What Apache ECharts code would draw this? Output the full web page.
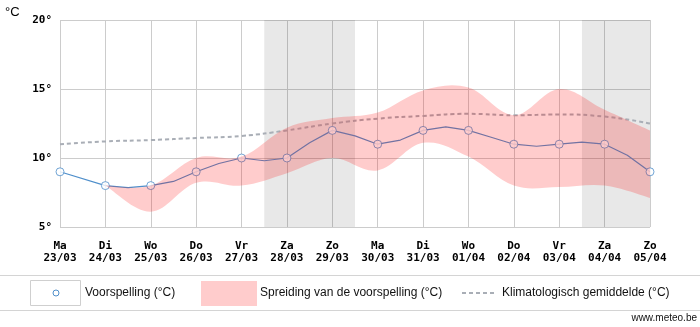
<!DOCTYPE html>
<html>
<head>
<meta charset="utf-8">
<title>Temperatuurverwachting</title>
<script src="https://cdn.jsdelivr.net/npm/echarts@6/dist/echarts.min.js"></script>
<style>
  html, body { margin: 0; padding: 0; background: #fff; }
  #chart { width: 700px; height: 327px; }
</style>
</head>
<body>
<div id="chart"></div>
<script>
// Day labels along the horizontal axis
const dayNames = ['Ma', 'Di', 'Wo', 'Do', 'Vr', 'Za', 'Zo', 'Ma', 'Di', 'Wo', 'Do', 'Vr', 'Za', 'Zo'];
const dayDates = ['23/03', '24/03', '25/03', '26/03', '27/03', '28/03', '29/03', '30/03', '31/03', '01/04', '02/04', '03/04', '04/04', '05/04'];

// Daily forecast (°C), one marker per day
const forecastDaily = [9, 8, 8, 9, 10, 10, 12, 11, 12, 12, 11, 11, 11, 9];
// Forecast at 12h steps between the daily values (day index, °C)
const forecastHalfDay = [
  [1.5, 7.85], [2.5, 8.3], [3.5, 9.6], [4.5, 9.8], [5.5, 11.1], [6.5, 11.6],
  [7.5, 11.3], [8.5, 12.25], [9.5, 11.5], [10.5, 10.85], [11.5, 11.15], [12.5, 10.2]
];

// Forecast spread, from 24/03 onwards
const spreadStart = 1;
const spreadLow  = [8.0, 6.1, 8.2, 8.0, 8.9, 10.0, 9.1, 11.1, 10.1, 8.0, 7.9, 8.0, 7.1];
const spreadHigh = [8.0, 8.0, 10.0, 10.1, 12.2, 12.9, 13.3, 14.9, 15.1, 13.1, 15.0, 13.5, 12.0];

// Climatological mean (°C)
const climateMean = [11.0, 11.2, 11.3, 11.45, 11.6, 12.0, 12.5, 12.85, 13.05, 13.2, 13.1, 13.15, 13.0, 12.5];

// Weekend periods (day index ranges)
const weekends = [[4.5, 6.5], [11.5, 13]];

// Y ticks
const yTicks = { min: 5, max: 20, step: 5 };

const LINE_BLUE = '#4f8fcb';
const SPREAD_FILL = 'rgba(255, 0, 0, 0.2)';
const CLIMATE_GREY = '#a9aeb6';
const MONO = '"DejaVu Sans Mono", monospace';
const SANS = '"Liberation Sans", Arial, sans-serif';

// Build the forecast curve: daily points merged with 12h points
const forecastCurve = forecastDaily.map((v, i) => [i, v]).concat(forecastHalfDay)
  .sort((a, b) => a[0] - b[0]);

// Smooth path segments (Catmull-Rom as cubic Bezier) through pixel points
function smoothSegments(pts, tension) {
  let d = '';
  for (let i = 0; i < pts.length - 1; i++) {
    const p0 = pts[Math.max(i - 1, 0)];
    const p1 = pts[i];
    const p2 = pts[i + 1];
    const p3 = pts[Math.min(i + 2, pts.length - 1)];
    const c1x = p1[0] + (p2[0] - p0[0]) * tension;
    const c1y = p1[1] + (p2[1] - p0[1]) * tension;
    const c2x = p2[0] - (p3[0] - p1[0]) * tension;
    const c2y = p2[1] - (p3[1] - p1[1]) * tension;
    d += ' C' + c1x + ' ' + c1y + ' ' + c2x + ' ' + c2y + ' ' + p2[0] + ' ' + p2[1];
  }
  return d;
}

// Spread band drawn as one filled shape between the high and low edges
function renderSpread(params, api) {
  const top = spreadHigh.map((v, i) => api.coord([spreadStart + i, v]));
  const bottom = spreadLow.map((v, i) => api.coord([spreadStart + i, v])).reverse();
  let d = 'M' + top[0][0] + ' ' + top[0][1];
  d += smoothSegments(top, 0.18);
  d += ' L' + bottom[0][0] + ' ' + bottom[0][1];
  d += smoothSegments(bottom, 0.18);
  d += ' Z';
  return {
    type: 'path',
    shape: { pathData: d },
    style: { fill: SPREAD_FILL, stroke: null }
  };
}

const chart = echarts.init(document.getElementById('chart'), null, { renderer: 'canvas' });

chart.setOption({
  animation: false,
  backgroundColor: '#fff',
  grid: { left: 60, right: 50, top: 20, bottom: 100 },
  xAxis: {
    type: 'value',
    min: 0,
    max: dayNames.length - 1,
    interval: 1,
    axisLine: { show: false },
    axisTick: { show: false },
    splitLine: { show: true, lineStyle: { color: '#cccccc', width: 1 } },
    axisLabel: {
      margin: 13,
      fontFamily: MONO,
      fontWeight: 'bold',
      fontSize: 11,
      lineHeight: 12,
      color: '#000',
      showMinLabel: true,
      showMaxLabel: true,
      formatter: v => dayNames[v] + '\n' + dayDates[v]
    }
  },
  yAxis: {
    type: 'value',
    min: yTicks.min,
    max: yTicks.max,
    interval: yTicks.step,
    axisLine: { show: false },
    axisTick: { show: false },
    splitLine: { show: true, lineStyle: { color: '#cccccc', width: 1 } },
    axisLabel: {
      margin: 8,
      fontFamily: MONO,
      fontWeight: 'bold',
      fontSize: 11,
      color: '#000',
      formatter: v => v + '°'
    }
  },
  series: [
    {
      name: 'Klimatologisch gemiddelde (°C)',
      type: 'line',
      z: 1,
      smooth: true,
      symbol: 'none',
      data: climateMean.map((v, i) => [i, v]),
      lineStyle: { color: CLIMATE_GREY, width: 2, type: [4, 3] },
      markArea: {
        silent: true,
        itemStyle: { color: 'rgba(0, 0, 0, 0.09)' },
        data: weekends.map(w => [{ xAxis: w[0] }, { xAxis: w[1] }])
      }
    },
    {
      name: 'Voorspelling (°C)',
      type: 'line',
      z: 2,
      symbol: 'none',
      data: forecastCurve,
      lineStyle: { color: LINE_BLUE, width: 1.2 }
    },
    {
      name: 'Voorspelling punten',
      type: 'scatter',
      z: 3,
      symbol: 'circle',
      symbolSize: 8,
      data: forecastDaily.map((v, i) => [i, v]),
      itemStyle: { color: '#ffffff', borderColor: LINE_BLUE, borderWidth: 1 }
    },
    {
      name: 'Spreiding van de voorspelling (°C)',
      type: 'custom',
      z: 5,
      silent: true,
      renderItem: renderSpread,
      data: [[spreadStart, spreadLow[0]]]
    }
  ],
  graphic: [
    { type: 'text', left: 5, top: 6, style: { text: '°C', font: '13px ' + SANS, fill: '#000' } },
    { type: 'line', shape: { x1: 0, y1: 275.5, x2: 700, y2: 275.5 }, style: { stroke: '#d4d4d4', lineWidth: 1 } },
    { type: 'line', shape: { x1: 0, y1: 310.5, x2: 700, y2: 310.5 }, style: { stroke: '#d4d4d4', lineWidth: 1 } },
    { type: 'rect', shape: { x: 30.5, y: 280.5, width: 50, height: 25 }, style: { fill: '#fff', stroke: '#cfcfcf', lineWidth: 1 } },
    { type: 'circle', shape: { cx: 56, cy: 293, r: 3 }, style: { fill: '#fff', stroke: LINE_BLUE, lineWidth: 1 } },
    { type: 'text', x: 85, y: 293, style: { text: 'Voorspelling (°C)', font: '12px ' + SANS, fill: '#111', textVerticalAlign: 'middle' } },
    { type: 'rect', shape: { x: 201, y: 281, width: 56, height: 25 }, style: { fill: '#ffcccc' } },
    { type: 'text', x: 260, y: 293, style: { text: 'Spreiding van de voorspelling (°C)', font: '12px ' + SANS, fill: '#111', textVerticalAlign: 'middle' } },
    { type: 'line', shape: { x1: 462, y1: 293, x2: 494, y2: 293 }, style: { stroke: CLIMATE_GREY, lineWidth: 2, lineDash: [4, 3] } },
    { type: 'text', x: 502, y: 293, style: { text: 'Klimatologisch gemiddelde (°C)', font: '12px ' + SANS, fill: '#111', textVerticalAlign: 'middle' } },
    { type: 'text', x: 697, y: 318, style: { text: 'www.meteo.be', font: '10px ' + SANS, fill: '#111', textAlign: 'right', textVerticalAlign: 'middle' } }
  ]
});
</script>
</body>
</html>
